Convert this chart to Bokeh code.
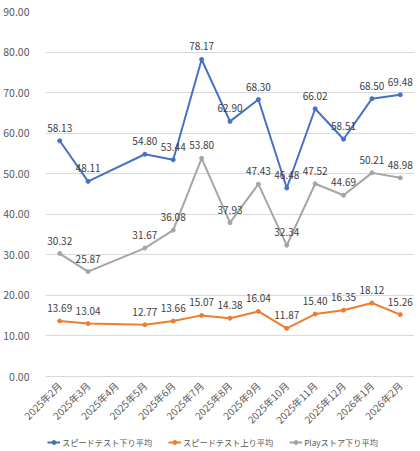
import math
from bokeh.plotting import figure
from bokeh.layouts import column
from bokeh.models import ColumnDataSource, NumeralTickFormatter, FixedTicker, Legend, LegendItem, Range1d
from bokeh.core.properties import value
from bokeh.embed import file_html
from bokeh.resources import INLINE

months = ["2025年2月", "2025年3月", "2025年4月", "2025年5月", "2025年6月", "2025年7月", "2025年8月",
          "2025年9月", "2025年10月", "2025年11月", "2025年12月", "2026年1月", "2026年2月"]
down_speedtest = [58.13, 48.11, None, 54.80, 53.44, 78.17, 62.90, 68.30, 46.48, 66.02, 58.51, 68.50, 69.48]
up_speedtest = [13.69, 13.04, None, 12.77, 13.66, 15.07, 14.38, 16.04, 11.87, 15.40, 16.35, 18.12, 15.26]
down_playstore = [30.32, 25.87, None, 31.67, 36.08, 53.80, 37.93, 47.43, 32.34, 47.52, 44.69, 50.21, 48.98]
series_names = ["スピードテスト下り平均", "スピードテスト上り平均", "Playストア下り平均"]
y_ticks = [0, 10, 20, 30, 40, 50, 60, 70, 80, 90]

colors = ["#4472C4", "#ED7D31", "#A5A5A5"]
FONT = "Noto Sans CJK JP"

p = figure(x_range=months, y_range=Range1d(0, 90), frame_width=369, frame_height=365,
           output_backend="svg", toolbar_location=None,
           min_border_left=43, min_border_right=0, min_border_top=11, min_border_bottom=50)
p.outline_line_color = None
p.xgrid.grid_line_color = None
p.ygrid.grid_line_color = "#D9D9D9"
p.ygrid.grid_line_width = 1
p.yaxis.ticker = FixedTicker(ticks=y_ticks)
p.yaxis.formatter = NumeralTickFormatter(format="0.00")
p.yaxis.axis_line_color = None
p.yaxis.major_tick_line_color = None
p.yaxis.minor_tick_line_color = None
p.yaxis.major_label_text_font = FONT
p.yaxis.major_label_text_font_size = "10.5px"
p.yaxis.major_label_text_color = "#595959"
p.yaxis.major_label_standoff = 10
p.xaxis.axis_line_color = "#D9D9D9"
p.xaxis.major_tick_line_color = None
p.xaxis.minor_tick_line_color = None
p.xaxis.major_label_orientation = math.pi / 4
p.xaxis.major_label_text_font = FONT
p.xaxis.major_label_text_font_size = "10px"
p.xaxis.major_label_text_color = "#595959"
p.xaxis.major_label_standoff = 1

for vals, col in zip([down_speedtest, up_speedtest, down_playstore], colors):
    xs = [m for m, v in zip(months, vals) if v is not None]
    ys = [v for v in vals if v is not None]
    src = ColumnDataSource(dict(x=xs, y=ys, t=["%.2f" % v for v in ys]))
    p.line("x", "y", source=src, line_color=col, line_width=2)
    p.scatter("x", "y", source=src, size=4, color=col)
    p.text("x", "y", text="t", source=src, text_font=value(FONT), text_font_size="10px",
           text_color="#404040", text_align="center", text_baseline="middle", y_offset=-13)

# legend strip below the chart
lg = figure(width=412, height=14, x_range=Range1d(0, 1), y_range=Range1d(0, 1),
            x_axis_location=None, y_axis_location=None,
            output_backend="svg", toolbar_location=None,
            min_border_left=0, min_border_right=0, min_border_top=0, min_border_bottom=0)
lg.grid.visible = False
lg.outline_line_color = None
items = []
for name, col in zip(series_names, colors):
    ln = lg.line([-5, -4], [-5, -4], line_color=col, line_width=2)
    sc = lg.scatter([-5], [-5], size=4, color=col)
    items.append(LegendItem(label=name, renderers=[ln, sc]))
legend = Legend(items=items, orientation="horizontal", location=(2, 0),
                label_text_font=FONT, label_text_font_size="8.2px", label_text_color="#595959",
                glyph_width=13, glyph_height=10, label_standoff=2, spacing=16,
                padding=1, margin=0, border_line_color=None, background_fill_alpha=0)
lg.add_layout(legend, "center")

open("out.html", "w").write(file_html(column(p, lg, spacing=0), INLINE))
